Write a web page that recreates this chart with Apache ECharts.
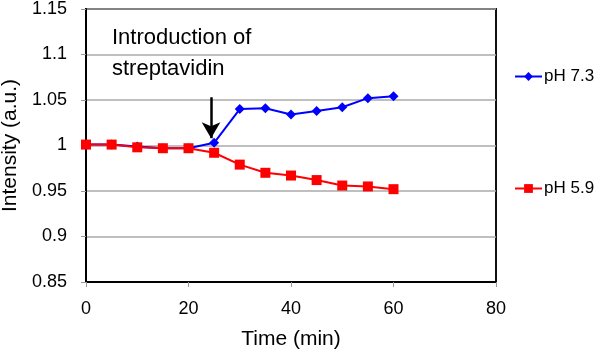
<!DOCTYPE html>
<html><head><meta charset="utf-8">
<script src="https://cdn.jsdelivr.net/npm/echarts@6/dist/echarts.min.js"></script>
<style>html,body{margin:0;padding:0;background:#fff}#c{width:600px;height:355px}</style>
</head><body><div id="c"></div>
<script>
const times = [0, 5, 10, 15, 20, 25, 30, 35, 40, 45, 50, 55, 60];
const ph73 = [1.001, 1.001, 0.999, 0.997, 0.997, 1.003, 1.040, 1.041, 1.034, 1.038, 1.042, 1.052, 1.054];
const ph59 = [1.001, 1.001, 0.998, 0.997, 0.997, 0.992, 0.979, 0.970, 0.967, 0.962, 0.956, 0.955, 0.952];
const xTicks = [0, 20, 40, 60, 80];
const yTicks = [0.85, 0.9, 0.95, 1, 1.05, 1.1, 1.15];
const arrowX = 24.4, arrowTop = 1.053, arrowBottom = 1.008;

const font = '"Liberation Sans", Arial, sans-serif';
const chart = echarts.init(document.getElementById('c'));
chart.setOption({
  animation: false,
  grid: {left: 86, right: 104, top: 9, bottom: 73, containLabel: false, outerBoundsMode: 'none',
    show: true, borderColor: '#111', borderWidth: 2},
  xAxis: {
    type: 'value', min: 0, max: 80, interval: 20,
    name: 'Time (min)', nameLocation: 'middle', nameGap: 47,
    nameTextStyle: {fontFamily: font, fontSize: 21, color: '#000'},
    axisLine: {lineStyle: {color: '#000', width: 2}},
    axisTick: {show: true, length: 5, lineStyle: {color: '#999'}},
    axisLabel: {fontFamily: font, fontSize: 18, color: '#000', margin: 18,
      formatter: v => xTicks.includes(v) ? String(v) : ''},
    splitLine: {show: false}
  },
  yAxis: {
    type: 'value', min: 0.85, max: 1.15, interval: 0.05,
    name: 'Intensity (a.u.)', nameLocation: 'middle', nameGap: 64,
    nameTextStyle: {fontFamily: font, fontSize: 21, color: '#000'},
    axisLine: {show: true, lineStyle: {color: '#000', width: 2}},
    axisTick: {show: true, length: 5, lineStyle: {color: '#999'}},
    axisLabel: {fontFamily: font, fontSize: 18, color: '#000', margin: 19,
      formatter: v => { const t = yTicks.find(k => Math.abs(k - v) < 1e-6); return t === undefined ? '' : String(t); }},
    splitLine: {show: true, lineStyle: {color: '#aaa', width: 1.5}}
  },
  legend: [
    {left: 514, top: 68, padding: 0, itemWidth: 27, itemHeight: 11, data: ['pH 7.3'],
      textStyle: {fontFamily: font, fontSize: 17, color: '#000', padding: [0, 0, 0, -3]}, itemGap: 0},
    {left: 514, top: 180, padding: 0, itemWidth: 27, itemHeight: 11, data: ['pH 5.9'],
      textStyle: {fontFamily: font, fontSize: 17, color: '#000', padding: [0, 0, 0, -3]}, itemGap: 0}
  ],
  series: [
    {name: 'pH 7.3', type: 'line', data: times.map((t, i) => [t, ph73[i]]),
      symbol: 'diamond', symbolSize: 10, color: '#0000ff',
      lineStyle: {width: 2, color: '#0000ff'}, itemStyle: {color: '#0000ff'}, z: 3,
      markLine: {
        silent: true, symbol: ['none', 'arrow'], symbolSize: [14, 16],
        label: {show: false},
        lineStyle: {color: '#000', width: 2.5, type: 'solid'},
        data: [[{coord: [arrowX, arrowTop]}, {coord: [arrowX, arrowBottom]}]]
      }},
    {name: 'pH 5.9', type: 'line', data: times.map((t, i) => [t, ph59[i]]),
      symbol: 'rect', symbolSize: 10, color: '#ff0000',
      lineStyle: {width: 2, color: '#ff0000'}, itemStyle: {color: '#ff0000'}, z: 4}
  ],
  graphic: [
    {type: 'text', left: 112, top: 27, style: {text: 'Introduction of', fontFamily: font, fontSize: 22, fill: '#000'}},
    {type: 'text', left: 112, top: 58, style: {text: 'streptavidin', fontFamily: font, fontSize: 22, fill: '#000'}}
  ]
});
</script></body></html>
